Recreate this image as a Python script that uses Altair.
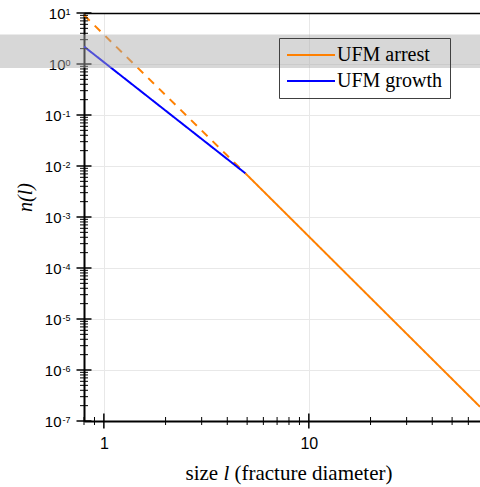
import altair as alt
import pandas as pd

# ---- data ----
series_names = ["UFM arrest", "UFM growth"]
series_colors = ["#ff8000", "#0000ff"]

# straight power-law segments on log-log axes (end points)
arrest_dashed_l = [0.8, 4.9]
arrest_dashed_n = [9.1, 0.0072]
arrest_solid_l = [4.9, 68.4]
arrest_solid_n = [0.0072, 1.9e-7]
growth_l = [0.8, 4.9]
growth_n = [2.2, 0.0072]

x_domain = [0.8, 68.4]
y_domain = [1e-7, 10]
x_major = [1, 10]
x_minor = [0.8, 0.9, 2, 3, 4, 5, 6, 7, 8, 9, 20, 30, 40, 50, 60]
y_major = [1e-7, 1e-6, 1e-5, 1e-4, 1e-3, 1e-2, 1e-1, 1, 10]
y_minor = [k * 10.0 ** e for e in range(-7, 1) for k in range(2, 10)]
band_n = [3.79, 0.836]

rows = []
for l, n in zip(arrest_dashed_l, arrest_dashed_n):
    rows.append({"series": "UFM arrest", "part": "dashed", "l": l, "n": n})
for l, n in zip(arrest_solid_l, arrest_solid_n):
    rows.append({"series": "UFM arrest", "part": "solid", "l": l, "n": n})
for l, n in zip(growth_l, growth_n):
    rows.append({"series": "UFM growth", "part": "solid", "l": l, "n": n})
df = pd.DataFrame(rows)
band_df = pd.DataFrame({"hi": [band_n[0]], "lo": [band_n[1]]})

W, H = 396, 408
xs = alt.Scale(type="log", domain=x_domain, nice=False, zero=False)
ys = alt.Scale(type="log", domain=y_domain, nice=False, zero=False)

SANS = "Liberation Sans"
SERIF = "Liberation Serif"

title_common = dict(titleFont=SERIF, titleFontSize=21, titleFontWeight="normal",
                    titleColor="black", titleY=58.5, titleAlign="left",
                    titleBaseline="alphabetic")
bare = dict(ticks=False, domain=False, labels=False, grid=False)

# main axes: domain, labels, grid, titles (ticks are drawn as crossing rules below)
xA = alt.Axis(values=x_major, orient="bottom", ticks=False,
              domain=True, domainColor="black", domainWidth=2,
              labelExpr="'' + round(datum.value)",
              labelFont=SANS, labelFontSize=16, labelColor="black", labelPadding=14,
              labelFlush=False, labelOverlap=False,
              grid=True, gridColor="#e8e8e8", gridWidth=1,
              title="size", titleX=101, **title_common)
yA = alt.Axis(values=y_major, orient="left", ticks=False,
              domain=True, domainColor="black", domainWidth=2,
              labelExpr="'10'",
              labelFont=SANS, labelFontSize=15, labelColor="black",
              labelAlign="right", labelBaseline="middle",
              labelPadding={"condition": {"test": "datum.value >= 0.99", "value": 19},
                            "value": 23},
              labelFlush=False, labelOverlap=False,
              grid=True, gridColor="#e8e8e8", gridWidth=1,
              title="n(l)", titleFont=SERIF, titleFontSize=20, titleFontStyle="italic",
              titleFontWeight="normal", titleColor="black", titleAngle=270,
              titleX=-59, titleY=184, titleAlign="center", titleBaseline="middle")

lines = alt.Chart(df).mark_line(strokeWidth=2, clip=True).encode(
    x=alt.X("l:Q", scale=xs, axis=xA),
    y=alt.Y("n:Q", scale=ys, axis=yA),
    color=alt.Color("series:N", scale=alt.Scale(domain=series_names, range=series_colors),
                    legend=alt.Legend(orient="none", legendX=195, legendY=25, title=None,
                                      symbolType="M-4.8,0H4.8", symbolSize=100,
                                      symbolStrokeWidth=2, symbolOffset=15,
                                      labelFont=SERIF, labelFontSize=20, labelColor="black",
                                      labelOffset=16, padding=7, rowPadding=6,
                                      strokeColor="#404040", cornerRadius=0)),
    strokeDash=alt.StrokeDash("part:N", scale=alt.Scale(domain=["solid", "dashed"],
                                                        range=[[1, 0], [8, 7]]), legend=None),
)


def ghost(xaxis, yaxis):
    return alt.Chart(df).mark_point(opacity=0).encode(
        x=alt.X("l:Q", scale=xs, axis=xaxis),
        y=alt.Y("n:Q", scale=ys, axis=yaxis),
    )


# italic l of the x title + exponent labels of the y axis
g1 = ghost(alt.Axis(orient="bottom", title="l", titleFontStyle="italic", titleX=139,
                    **bare, **title_common),
           alt.Axis(values=y_major, orient="left", ticks=False, domain=False, grid=False,
                    labelExpr="'' + round(log(datum.value) / LN10)", labelFont=SANS,
                    labelFontSize=9, labelColor="black", labelAlign="right",
                    labelBaseline="alphabetic", labelOffset=1.5, labelPadding=14,
                    labelFlush=False, labelOverlap=False, title=None))
# rest of the x title
g2 = ghost(alt.Axis(orient="bottom", title="(fracture diameter)", titleX=150,
                    **bare, **title_common), None)
# top frame line
g3 = ghost(alt.Axis(orient="top", domain=True, domainColor="black", domainWidth=1.5,
                    ticks=False, labels=False, grid=False, title=None), None)


# crossing tick marks, placed through the scales
def yticks(vals, half, width):
    return alt.Chart(pd.DataFrame({"v": vals})).mark_rule(color="black", strokeWidth=width).encode(
        y=alt.Y("v:Q", scale=ys, axis=None), x=alt.value(-half), x2=alt.value(half))


def xticks(vals, half, width):
    return alt.Chart(pd.DataFrame({"v": vals})).mark_rule(color="black", strokeWidth=width).encode(
        x=alt.X("v:Q", scale=xs, axis=None), y=alt.value(H - half), y2=alt.value(H + half))


band = alt.Chart(band_df).mark_rect(color="#ababab", opacity=0.47).encode(
    x=alt.value(-84), x2=alt.value(W),
    y=alt.Y("hi:Q", scale=ys, axis=None), y2="lo:Q",
)

chart = alt.layer(
    lines, g1, g2, g3,
    yticks(y_minor, 4, 1), yticks(y_major, 7.5, 1.5),
    xticks(x_minor, 4, 1), xticks(x_major, 7.5, 1.5),
    band,
).resolve_axis(x="independent", y="independent").properties(
    width=W, height=H,
    padding={"left": 84, "top": 13, "right": 0, "bottom": 66},
    autosize=alt.AutoSizeParams(type="none"),
    background="white",
).configure_view(stroke=None)

chart.save("out.html", embed_options={"renderer": "svg", "actions": False})
